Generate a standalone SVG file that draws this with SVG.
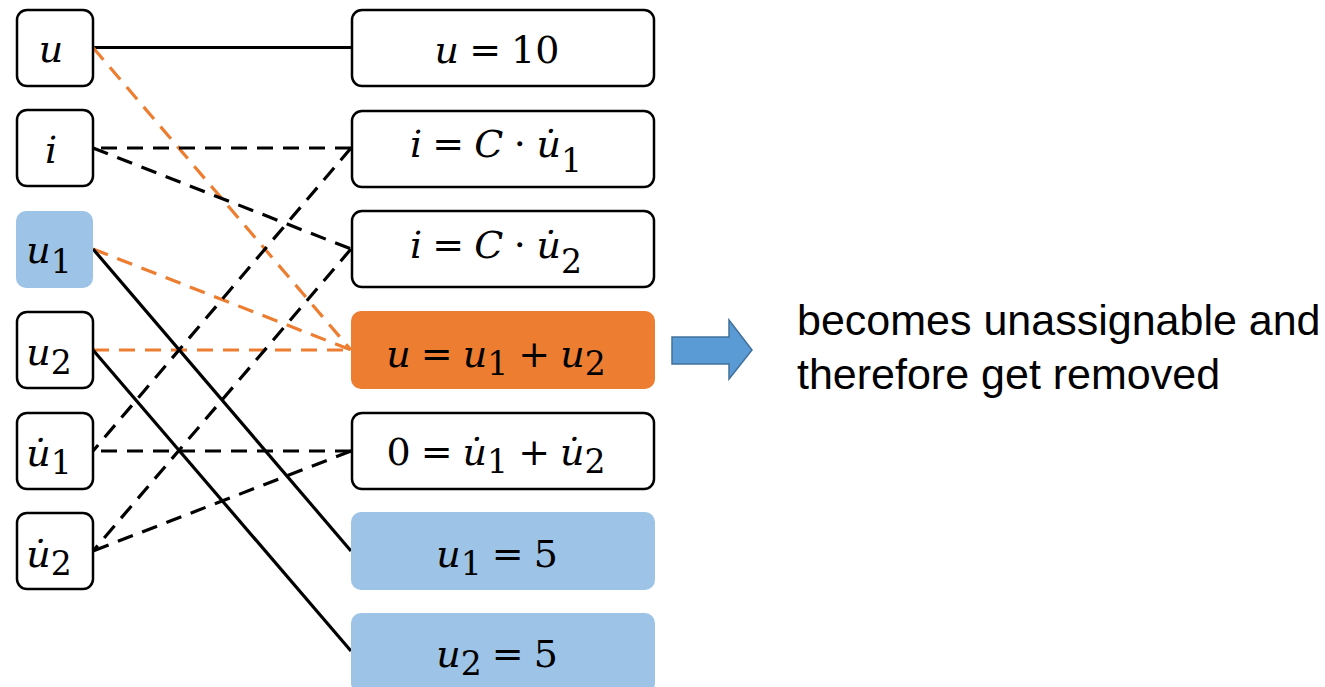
<svg xmlns="http://www.w3.org/2000/svg" width="1325" height="687" viewBox="0 0 1325 687">
<style>
.box{fill:#fff;stroke:#000;stroke-width:2.5}
.blue{fill:#9DC3E6;stroke:none}
.orange{fill:#ED7D31;stroke:none}
.m{font-family:"DejaVu Serif","Liberation Serif",serif;font-size:38px;text-anchor:middle;fill:#000;word-spacing:-2px}
.v{font-style:italic}
.s{font-size:33px}
.solid{stroke:#000;stroke-width:3.2;fill:none}
.dash{stroke:#000;stroke-width:3.2;fill:none;stroke-dasharray:16 10}
.odash{stroke:#ED7D31;stroke-width:3.2;fill:none;stroke-dasharray:16 10}
.note{font-family:"Liberation Sans",Arial,sans-serif;font-size:43px;fill:#000}
</style>
<rect width="1325" height="687" fill="#fff"/>
<g id="connectors">
  <line class="solid" x1="93" y1="47.5" x2="351" y2="47.5"/>
  <line class="odash" x1="93" y1="47.5" x2="351" y2="350"/>
  <line class="odash" x1="93" y1="249" x2="351" y2="350"/>
  <line class="odash" x1="93" y1="350" x2="351" y2="350"/>
  <line class="dash" x1="351" y1="148" x2="93" y2="148"/>
  <line class="dash" x1="93" y1="148" x2="351" y2="249"/>
  <line class="dash" x1="351" y1="148" x2="93" y2="451"/>
  <line class="dash" x1="351" y1="249" x2="93" y2="551"/>
  <line class="dash" x1="351" y1="451" x2="93" y2="451"/>
  <line class="dash" x1="351" y1="451" x2="93" y2="551"/>
  <line class="solid" x1="93" y1="249" x2="351" y2="551"/>
  <line class="solid" x1="93" y1="350" x2="351" y2="651"/>
</g>
<g id="n-u">
  <rect class="box" x="17" y="10" width="76" height="76" rx="10"/>
  <text class="m" x="51" y="62"><tspan class="v">u</tspan></text>
</g>
<g id="n-i">
  <rect class="box" x="17" y="110" width="76" height="76" rx="10"/>
  <text class="m" x="51" y="163"><tspan class="v">i</tspan></text>
</g>
<g id="n-u1">
  <rect class="blue" x="16" y="211" width="77" height="77" rx="10"/>
  <text class="m" x="49" y="263"><tspan class="v">u</tspan><tspan class="s" dy="10">1</tspan></text>
</g>
<g id="n-u2">
  <rect class="box" x="17" y="312" width="76" height="76" rx="10"/>
  <text class="m" x="49" y="365"><tspan class="v">u</tspan><tspan class="s" dy="9">2</tspan></text>
</g>
<g id="n-du1">
  <rect class="box" x="17" y="413" width="76" height="76" rx="10"/>
  <text class="m" x="49" y="466"><tspan class="v">u̇</tspan><tspan class="s" dy="8">1</tspan></text>
</g>
<g id="n-du2">
  <rect class="box" x="17" y="513" width="76" height="76" rx="10"/>
  <text class="m" x="49" y="567"><tspan class="v">u̇</tspan><tspan class="s" dy="8">2</tspan></text>
</g>
<g id="e-u10">
  <rect class="box" x="352" y="10" width="302" height="76" rx="10"/>
  <text class="m" x="497" y="63"><tspan class="v">u</tspan> = 10</text>
</g>
<g id="e-i1">
  <rect class="box" x="352" y="111" width="302" height="76" rx="10"/>
  <text class="m" x="496" y="157"><tspan class="v">i</tspan> = <tspan class="v">C</tspan> ⋅ <tspan class="v">u̇</tspan><tspan class="s" dy="15">1</tspan></text>
</g>
<g id="e-i2">
  <rect class="box" x="352" y="211" width="302" height="76" rx="10"/>
  <text class="m" x="496" y="258"><tspan class="v">i</tspan> = <tspan class="v">C</tspan> ⋅ <tspan class="v">u̇</tspan><tspan class="s" dy="15">2</tspan></text>
</g>
<g id="e-sum">
  <rect class="orange" x="351" y="311" width="304" height="78" rx="10"/>
  <text class="m" x="496" y="367"><tspan class="v">u</tspan> = <tspan class="v">u</tspan><tspan class="s" dy="8">1</tspan><tspan dy="-8"> + </tspan><tspan class="v">u</tspan><tspan class="s" dy="8">2</tspan></text>
</g>
<g id="e-zero">
  <rect class="box" x="352" y="413" width="302" height="76" rx="10"/>
  <text class="m" x="496" y="465">0 = <tspan class="v">u̇</tspan><tspan class="s" dy="8">1</tspan><tspan dy="-8"> + </tspan><tspan class="v">u̇</tspan><tspan class="s" dy="8">2</tspan></text>
</g>
<g id="e-u1">
  <rect class="blue" x="351" y="512" width="304" height="78" rx="10"/>
  <text class="m" x="497" y="567"><tspan class="v">u</tspan><tspan class="s" dy="8">1</tspan><tspan dy="-8"> = 5</tspan></text>
</g>
<g id="e-u2">
  <rect class="blue" x="351" y="613" width="304" height="80" rx="10"/>
  <text class="m" x="497" y="667"><tspan class="v">u</tspan><tspan class="s" dy="8">2</tspan><tspan dy="-8"> = 5</tspan></text>
</g>
<g id="note">
  <polygon points="672,337 729,337 729,320 752,350 729,379 729,364 672,364" fill="#5B9BD5" stroke="#41719C" stroke-width="1.5"/>
  <text class="note" x="797" y="335">becomes unassignable and</text>
  <text class="note" x="797" y="389">therefore get removed</text>
</g>
</svg>
